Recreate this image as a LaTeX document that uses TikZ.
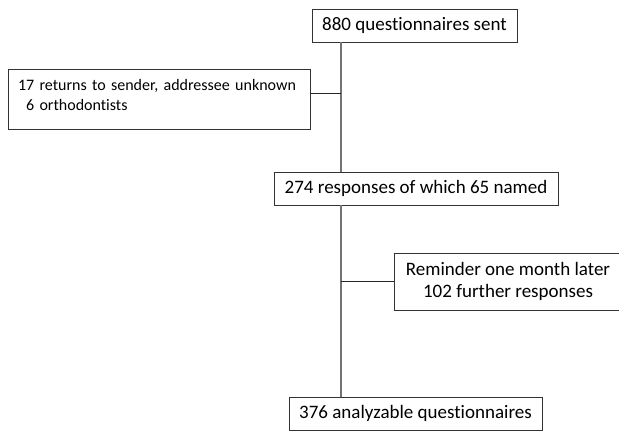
\documentclass[tikz,border=0pt]{standalone}
\usepackage{fontspec}
\setmainfont{Carlito}[Ligatures=NoCommon]
\begin{document}
\begin{tikzpicture}[x=1pt,y=-1pt,
  box/.style={draw=black!80, line width=0.9pt, inner sep=0pt, font=\fontsize{19}{22.5}\selectfont, align=center},
  vline/.style={draw=black!55, line width=1.1pt},
  hline/.style={draw=black!85, line width=0.9pt}]
\useasboundingbox (0,0) rectangle (619,431);
\begin{scope}
\clip (0,0) rectangle (619,431);
\node[box, font=\fontsize{16}{20}\selectfont, minimum height=60pt, text width=282pt, inner xsep=10pt, align=left] (b2) at (159,99) {\mbox{17 returns to sender, addressee unknown}\\\mbox{\hphantom{1}6 orthodontists}\rule[-8pt]{0pt}{0pt}};
\node[box, minimum width=205pt, minimum height=33pt] (b1) at (414.5,25.5) {880 questionnaires sent};
\node[box, minimum width=284pt, minimum height=33pt] (b3) at (416,188.5) {274 responses of which 65 named};
\node[box, minimum width=228pt, minimum height=57pt] (b4) at (508,281.5) {Reminder one month later\\102 further responses};
\node[box, minimum width=253pt, minimum height=33pt] (b5) at (415.5,413.5) {376 analyzable questionnaires};
\coordinate (spine) at (341,0);
\coordinate (j2) at (341,93);
\coordinate (b2e) at (310,93);
\draw[vline] (b1.south -| spine) -- (b3.north -| spine);
\draw[vline] (b3.south -| spine) -- (b5.north -| spine);
\draw[hline] (b2e) -- (j2);
\draw[hline] (spine |- b4.west) -- (b4.west);
\end{scope}
\end{tikzpicture}
\end{document}
